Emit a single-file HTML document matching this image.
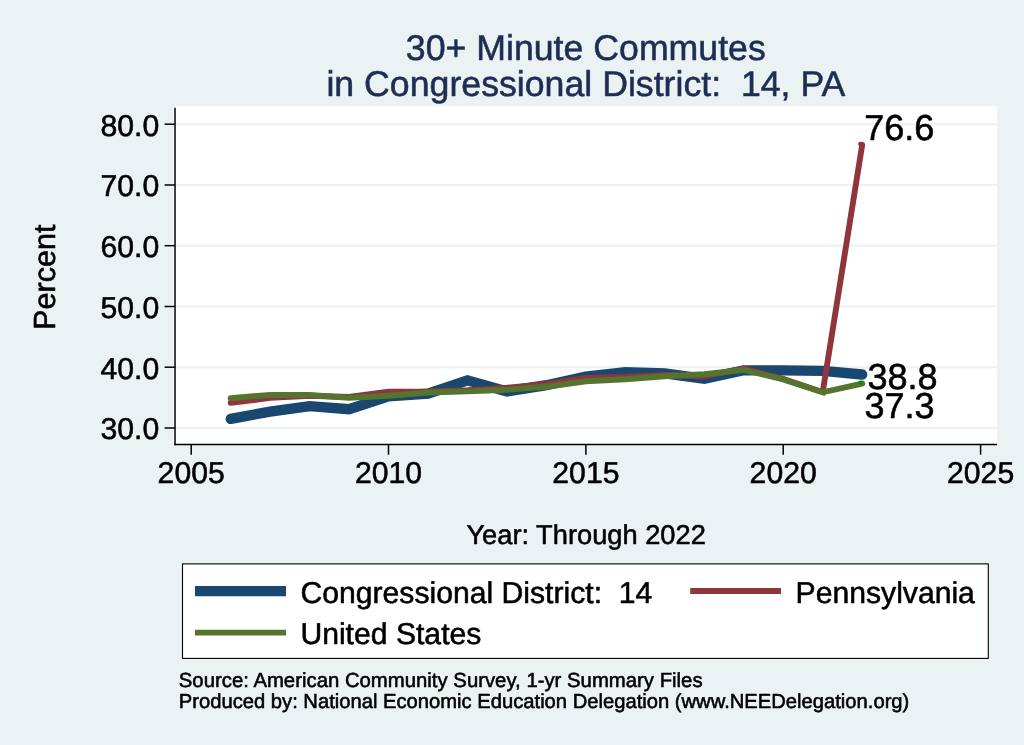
<!DOCTYPE html>
<html lang="en"><head><meta charset="utf-8"><title>30+ Minute Commutes in Congressional District: 14, PA</title>
<style>
html,body{margin:0;padding:0;background:#eaf2f3;overflow:hidden;}
svg{display:block;font-family:"Liberation Sans",Arial,Helvetica,sans-serif;}
text{stroke-width:0.55px;stroke-linejoin:round;text-rendering:geometricPrecision;}
.k text{fill:#000;stroke:#000;}
.t text{fill:#1e2d53;stroke:#1e2d53;}
</style></head><body>
<svg width="1024" height="745" viewBox="0 0 1024 745">
<rect x="0" y="0" width="1024" height="745" fill="#eaf2f3"/>
<rect x="173.5" y="106.3" width="823.7" height="338.5" fill="#fff"/>
<g stroke="#eaf2f3" stroke-width="1.9">
<line x1="175" x2="997" y1="428.0" y2="428.0"/>
<line x1="175" x2="997" y1="367.2" y2="367.2"/>
<line x1="175" x2="997" y1="306.5" y2="306.5"/>
<line x1="175" x2="997" y1="245.7" y2="245.7"/>
<line x1="175" x2="997" y1="185.0" y2="185.0"/>
<line x1="175" x2="997" y1="124.2" y2="124.2"/>
</g>
<g fill="none" stroke-linejoin="miter" stroke-linecap="round">
<polyline points="230.7,418.9 270.1,411.6 309.6,406.1 349.1,409.2 388.5,396.4 428.0,393.7 467.5,380.3 507.0,391.5 546.4,385.2 585.9,376.7 625.4,372.1 664.8,373.3 704.3,378.8 743.8,370.3 783.2,370.4 822.7,370.9 862.2,374.5" stroke="#1a476f" stroke-width="10.3"/>
<polyline points="230.7,402.8 270.1,397.9 309.6,395.8 349.1,397.0 388.5,391.8 428.0,391.4 467.5,390.1 507.0,387.8 546.4,384.0 585.9,377.9 625.4,377.0 664.8,375.0 704.3,376.2 743.8,368.5 783.2,378.9 822.7,392.2 862.2,144.9" stroke="#90353b" stroke-width="5.9"/>
<polyline points="230.7,398.2 270.1,394.9 309.6,395.0 349.1,397.9 388.5,395.8 428.0,392.5 467.5,391.4 507.0,389.7 546.4,386.7 585.9,381.3 625.4,379.3 664.8,376.2 704.3,374.3 743.8,369.9 783.2,379.4 822.7,392.3 862.2,383.6" stroke="#55752f" stroke-width="5.9"/>
</g>
<circle cx="860.5" cy="144.1" r="2.4" fill="#90353b"/>
<circle cx="860.5" cy="382.8" r="2.3" fill="#0a8a0a"/>
<g stroke="#000" stroke-width="1.5">
<line x1="175" x2="175" y1="107.8" y2="445.2"/>
<line x1="174.2" x2="997" y1="444.5" y2="444.5"/>
<line x1="164.6" x2="175" y1="428.0" y2="428.0"/>
<line x1="164.6" x2="175" y1="367.2" y2="367.2"/>
<line x1="164.6" x2="175" y1="306.5" y2="306.5"/>
<line x1="164.6" x2="175" y1="245.7" y2="245.7"/>
<line x1="164.6" x2="175" y1="185.0" y2="185.0"/>
<line x1="164.6" x2="175" y1="124.2" y2="124.2"/>
<line x1="191.2" x2="191.2" y1="444.5" y2="454.7"/>
<line x1="388.5" x2="388.5" y1="444.5" y2="454.7"/>
<line x1="585.9" x2="585.9" y1="444.5" y2="454.7"/>
<line x1="783.2" x2="783.2" y1="444.5" y2="454.7"/>
<line x1="980.6" x2="980.6" y1="444.5" y2="454.7"/>
</g>
<g class="k" font-size="30.2" text-anchor="end">
<text transform="translate(159.3,439.3)">30.0</text>
<text transform="translate(159.3,378.5)">40.0</text>
<text transform="translate(159.3,317.8)">50.0</text>
<text transform="translate(159.3,257.0)">60.0</text>
<text transform="translate(159.3,196.3)">70.0</text>
<text transform="translate(159.3,135.5)">80.0</text>
</g>
<g class="k" font-size="30.2" text-anchor="middle">
<text transform="translate(191.2,483.3)">2005</text>
<text transform="translate(388.5,483.3)">2010</text>
<text transform="translate(585.9,483.3)">2015</text>
<text transform="translate(783.2,483.3)">2020</text>
<text transform="translate(980.6,483.3)">2025</text>
</g>
<g class="k" font-size="36.1">
<text transform="translate(864.2,140.3)">76.6</text>
<text transform="translate(867.4,389.3)">38.8</text>
<text transform="translate(864.4,418.3)">37.3</text>
</g>
<g class="t" font-size="35.7" text-anchor="middle">
<text x="585.8" y="59.7">30+ Minute Commutes</text>
<text x="585.9" y="95.5" xml:space="preserve">in Congressional District:  14, PA</text>
</g>
<g class="k">
<text transform="translate(55.2,277.2) rotate(-90)" text-anchor="middle" font-size="30.6">Percent</text>
<text x="586.1" y="543.7" text-anchor="middle" font-size="27.25">Year: Through 2022</text>
</g>
<rect x="182.5" y="563.9" width="805.8" height="94.5" fill="#fff" stroke="#000" stroke-width="1.1"/>
<line x1="195" x2="286" y1="591.1" y2="591.1" stroke="#1a476f" stroke-width="10.3"/>
<line x1="195" x2="286" y1="632.6" y2="632.6" stroke="#55752f" stroke-width="5.9"/>
<line x1="690.2" x2="781" y1="591" y2="591" stroke="#90353b" stroke-width="5.9"/>
<g class="k" font-size="30.15">
<text x="300.5" y="602.8" xml:space="preserve">Congressional District:  14</text>
<text x="300.4" y="644">United States</text>
<text x="795.6" y="602.8">Pennsylvania</text>
</g>
<g class="k">
<text x="178.8" y="687.3" font-size="20.34">Source: American Community Survey, 1-yr Summary Files</text>
<text x="178.8" y="708.1" font-size="20.19">Produced by: National Economic Education Delegation (www.NEEDelegation.org)</text>
</g>
</svg>
</body></html>
